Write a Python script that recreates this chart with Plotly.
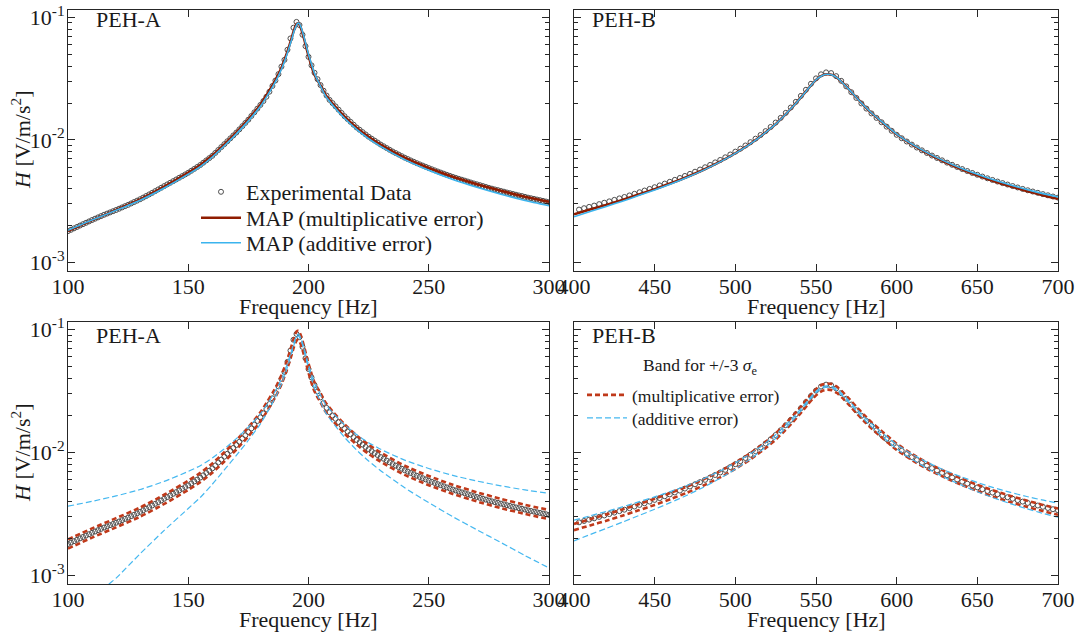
import plotly.graph_objects as go

# ---------------- data ----------------
# PEH-A experimental data, sampled every 1.25 Hz from 100 to 300 Hz
FREQ_A = [100 + 1.25 * k for k in range(161)]
H_EXP_A = [
    1.800e-3, 1.847e-3, 1.897e-3, 1.948e-3, 2.000e-3, 2.052e-3, 2.106e-3, 2.161e-3, 2.218e-3, 2.274e-3,
    2.331e-3, 2.389e-3, 2.449e-3, 2.504e-3, 2.561e-3, 2.619e-3, 2.679e-3, 2.744e-3, 2.812e-3, 2.881e-3,
    2.951e-3, 3.030e-3, 3.112e-3, 3.195e-3, 3.281e-3, 3.381e-3, 3.483e-3, 3.589e-3, 3.698e-3, 3.817e-3,
    3.940e-3, 4.066e-3, 4.198e-3, 4.330e-3, 4.467e-3, 4.608e-3, 4.753e-3, 4.906e-3, 5.063e-3, 5.225e-3,
    5.395e-3, 5.594e-3, 5.800e-3, 6.013e-3, 6.237e-3, 6.512e-3, 6.799e-3, 7.098e-3, 7.413e-3, 7.830e-3,
    8.270e-3, 8.736e-3, 9.226e-3, 9.743e-3, 1.029e-2, 1.087e-2, 1.148e-2, 1.219e-2, 1.295e-2, 1.376e-2,
    1.462e-2, 1.567e-2, 1.679e-2, 1.799e-2, 1.928e-2, 2.075e-2, 2.249e-2, 2.472e-2, 2.754e-2, 3.050e-2,
    3.440e-2, 3.960e-2, 4.500e-2, 5.440e-2, 6.730e-2, 8.230e-2, 9.180e-2, 8.650e-2, 7.210e-2, 5.820e-2,
    4.760e-2, 4.060e-2, 3.530e-2, 3.130e-2, 2.800e-2, 2.520e-2, 2.300e-2, 2.120e-2, 1.995e-2, 1.876e-2,
    1.764e-2, 1.659e-2, 1.560e-2, 1.479e-2, 1.403e-2, 1.330e-2, 1.262e-2, 1.209e-2, 1.157e-2, 1.108e-2,
    1.062e-2, 1.023e-2, 9.86e-3, 9.51e-3, 9.16e-3, 8.87e-3, 8.58e-3, 8.30e-3, 8.04e-3, 7.81e-3,
    7.59e-3, 7.37e-3, 7.16e-3, 6.98e-3, 6.80e-3, 6.63e-3, 6.46e-3, 6.31e-3, 6.17e-3, 6.03e-3,
    5.89e-3, 5.76e-3, 5.64e-3, 5.52e-3, 5.41e-3, 5.30e-3, 5.19e-3, 5.09e-3, 4.99e-3, 4.90e-3,
    4.81e-3, 4.73e-3, 4.65e-3, 4.57e-3, 4.49e-3, 4.41e-3, 4.34e-3, 4.27e-3, 4.20e-3, 4.13e-3,
    4.06e-3, 4.00e-3, 3.94e-3, 3.89e-3, 3.83e-3, 3.78e-3, 3.72e-3, 3.67e-3, 3.62e-3, 3.57e-3,
    3.52e-3, 3.48e-3, 3.43e-3, 3.38e-3, 3.34e-3, 3.30e-3, 3.26e-3, 3.22e-3, 3.18e-3, 3.14e-3,
    3.10e-3,
]

# PEH-A model curves (MAP) and +/-3 sigma bands
F_MAP_A = [100, 110, 120, 130, 140, 150, 155, 160, 165, 170, 175, 180, 183, 185, 187, 189, 190, 191,
           192, 193, 194, 195, 195.5, 196, 197, 198, 199, 200, 201, 202, 203, 205, 207, 210, 215, 220,
           225, 230, 240, 250, 260, 270, 280, 290, 300]
MAP_MULT_A = [1.80e-3, 2.21e-3, 2.68e-3, 3.27e-3, 4.15e-3, 5.40e-3, 6.25e-3, 7.45e-3, 9.20e-3, 1.15e-2,
              1.47e-2, 1.94e-2, 2.40e-2, 2.78e-2, 3.28e-2, 4.00e-2, 4.50e-2, 5.10e-2, 5.85e-2, 6.80e-2,
              7.90e-2, 8.80e-2, 8.95e-2, 8.90e-2, 8.00e-2, 6.85e-2, 5.75e-2, 4.85e-2, 4.15e-2, 3.60e-2,
              3.25e-2, 2.78e-2, 2.35e-2, 1.98e-2, 1.55e-2, 1.26e-2, 1.06e-2, 9.15e-3, 7.15e-3, 5.90e-3,
              5.00e-3, 4.35e-3, 3.84e-3, 3.44e-3, 3.12e-3]
MAP_ADD_A = [1.83e-3, 2.22e-3, 2.66e-3, 3.22e-3, 4.05e-3, 5.25e-3, 6.05e-3, 7.25e-3, 8.95e-3, 1.12e-2,
             1.43e-2, 1.88e-2, 2.32e-2, 2.70e-2, 3.18e-2, 3.88e-2, 4.35e-2, 4.95e-2, 5.70e-2, 6.60e-2,
             7.70e-2, 8.65e-2, 8.95e-2, 8.95e-2, 8.20e-2, 7.05e-2, 5.95e-2, 5.00e-2, 4.30e-2, 3.72e-2,
             3.30e-2, 2.75e-2, 2.30e-2, 1.93e-2, 1.50e-2, 1.22e-2, 1.025e-2, 8.85e-3, 6.90e-3, 5.65e-3,
             4.75e-3, 4.10e-3, 3.60e-3, 3.20e-3, 2.90e-3]
MULT_UP_A = [1.962e-3, 2.409e-3, 2.921e-3, 3.564e-3, 4.524e-3, 5.886e-3, 6.813e-3, 8.121e-3, 1.003e-2,
             1.254e-2, 1.602e-2, 2.115e-2, 2.616e-2, 3.030e-2, 3.575e-2, 4.360e-2, 4.905e-2, 5.559e-2,
             6.377e-2, 7.412e-2, 8.611e-2, 9.592e-2, 9.756e-2, 9.701e-2, 8.720e-2, 7.467e-2, 6.268e-2,
             5.287e-2, 4.524e-2, 3.924e-2, 3.543e-2, 3.030e-2, 2.562e-2, 2.158e-2, 1.690e-2, 1.373e-2,
             1.155e-2, 9.97e-3, 7.79e-3, 6.43e-3, 5.45e-3, 4.74e-3, 4.19e-3, 3.75e-3, 3.40e-3]
MULT_LO_A = [1.651e-3, 2.028e-3, 2.459e-3, 3.000e-3, 3.807e-3, 4.954e-3, 5.734e-3, 6.835e-3, 8.44e-3,
             1.055e-2, 1.349e-2, 1.780e-2, 2.202e-2, 2.550e-2, 3.009e-2, 3.670e-2, 4.128e-2, 4.679e-2,
             5.367e-2, 6.239e-2, 7.248e-2, 8.073e-2, 8.211e-2, 8.165e-2, 7.339e-2, 6.284e-2, 5.275e-2,
             4.450e-2, 3.807e-2, 3.303e-2, 2.982e-2, 2.550e-2, 2.156e-2, 1.817e-2, 1.422e-2, 1.156e-2,
             9.72e-3, 8.39e-3, 6.56e-3, 5.41e-3, 4.59e-3, 3.99e-3, 3.52e-3, 3.16e-3, 2.86e-3]
ADD_UP_A = [3.65e-3, 4.00e-3, 4.43e-3, 4.99e-3, 5.81e-3, 7.00e-3, 7.80e-3, 9.00e-3, 1.07e-2, 1.295e-2,
            1.605e-2, 2.055e-2, 2.495e-2, 2.875e-2, 3.355e-2, 4.055e-2, 4.525e-2, 5.125e-2, 5.875e-2,
            6.775e-2, 7.875e-2, 8.825e-2, 9.125e-2, 9.125e-2, 8.375e-2, 7.225e-2, 6.125e-2, 5.175e-2,
            4.475e-2, 3.895e-2, 3.475e-2, 2.925e-2, 2.475e-2, 2.105e-2, 1.675e-2, 1.395e-2, 1.200e-2,
            1.060e-2, 8.65e-3, 7.40e-3, 6.50e-3, 5.85e-3, 5.35e-3, 4.95e-3, 4.65e-3]
F_ADD_LO_A = [105, 110, 115, 120, 130, 140, 150, 155, 160, 165, 170, 175, 180, 183, 185, 187, 189, 190,
              191, 192, 193, 194, 195, 195.5, 196, 197, 198, 199, 200, 201, 202, 203, 205, 207, 210,
              215, 220, 225, 230, 240, 250, 260, 270, 280, 290, 300]
ADD_LO_A = [0.30e-3, 0.50e-3, 0.78e-3, 0.95e-3, 1.50e-3, 2.32e-3, 3.50e-3, 4.30e-3, 5.50e-3, 7.20e-3,
            9.45e-3, 1.255e-2, 1.705e-2, 2.145e-2, 2.525e-2, 3.005e-2, 3.705e-2, 4.175e-2, 4.775e-2,
            5.525e-2, 6.425e-2, 7.525e-2, 8.475e-2, 8.775e-2, 8.775e-2, 8.025e-2, 6.875e-2, 5.775e-2,
            4.825e-2, 4.125e-2, 3.545e-2, 3.125e-2, 2.575e-2, 2.125e-2, 1.755e-2, 1.325e-2, 1.045e-2,
            8.50e-3, 7.10e-3, 5.15e-3, 3.90e-3, 3.00e-3, 2.35e-3, 1.85e-3, 1.45e-3, 1.15e-3]

# PEH-B experimental data, sampled every 3.125 Hz from 403.125 to 700 Hz
FREQ_B = [403.125 + 3.125 * k for k in range(96)]
H_EXP_B = [
    2.70e-3, 2.77e-3, 2.84e-3, 2.91e-3, 2.99e-3, 3.07e-3, 3.15e-3, 3.24e-3, 3.33e-3, 3.42e-3,
    3.52e-3, 3.63e-3, 3.74e-3, 3.86e-3, 3.98e-3, 4.11e-3, 4.25e-3, 4.40e-3, 4.55e-3, 4.72e-3,
    4.89e-3, 5.08e-3, 5.28e-3, 5.50e-3, 5.73e-3, 5.98e-3, 6.25e-3, 6.55e-3, 6.86e-3, 7.21e-3,
    7.60e-3, 8.02e-3, 8.48e-3, 9.00e-3, 9.58e-3, 1.023e-2, 1.096e-2, 1.179e-2, 1.275e-2, 1.385e-2,
    1.513e-2, 1.662e-2, 1.838e-2, 2.044e-2, 2.286e-2, 2.564e-2, 2.870e-2, 3.177e-2, 3.429e-2, 3.555e-2,
    3.510e-2, 3.313e-2, 3.033e-2, 2.732e-2, 2.450e-2, 2.200e-2, 1.984e-2, 1.801e-2, 1.644e-2, 1.511e-2,
    1.393e-2, 1.283e-2, 1.186e-2, 1.100e-2, 1.031e-2, 9.70e-3, 9.15e-3, 8.66e-3, 8.22e-3, 7.82e-3,
    7.45e-3, 7.12e-3, 6.81e-3, 6.52e-3, 6.26e-3, 6.01e-3, 5.78e-3, 5.57e-3, 5.37e-3, 5.19e-3,
    5.02e-3, 4.86e-3, 4.71e-3, 4.57e-3, 4.44e-3, 4.32e-3, 4.20e-3, 4.09e-3, 3.98e-3, 3.88e-3,
    3.79e-3, 3.70e-3, 3.61e-3, 3.53e-3, 3.45e-3, 3.38e-3,
]

F_MAP_B = [400, 410, 420, 430, 440, 450, 460, 470, 480, 490, 500, 510, 520, 525, 530, 535, 540, 545,
           548, 551, 554, 557, 560, 563, 566, 570, 575, 580, 585, 590, 600, 610, 620, 630, 640, 650,
           660, 670, 680, 690, 700]
MAP_MULT_B = [2.47e-3, 2.70e-3, 2.95e-3, 3.24e-3, 3.58e-3, 3.96e-3, 4.43e-3, 4.98e-3, 5.68e-3, 6.58e-3,
              7.78e-3, 9.42e-3, 1.185e-2, 1.345e-2, 1.56e-2, 1.83e-2, 2.17e-2, 2.60e-2, 2.90e-2, 3.17e-2,
              3.36e-2, 3.43e-2, 3.39e-2, 3.22e-2, 2.97e-2, 2.62e-2, 2.22e-2, 1.89e-2, 1.63e-2, 1.43e-2,
              1.11e-2, 9.08e-3, 7.65e-3, 6.60e-3, 5.79e-3, 5.14e-3, 4.62e-3, 4.20e-3, 3.85e-3, 3.55e-3,
              3.30e-3]
MAP_ADD_B = [2.36e-3, 2.60e-3, 2.86e-3, 3.16e-3, 3.51e-3, 3.90e-3, 4.37e-3, 4.93e-3, 5.64e-3, 6.55e-3,
             7.76e-3, 9.41e-3, 1.185e-2, 1.346e-2, 1.56e-2, 1.83e-2, 2.17e-2, 2.60e-2, 2.90e-2, 3.17e-2,
             3.36e-2, 3.43e-2, 3.39e-2, 3.22e-2, 2.97e-2, 2.62e-2, 2.22e-2, 1.89e-2, 1.635e-2, 1.435e-2,
             1.115e-2, 9.15e-3, 7.73e-3, 6.68e-3, 5.88e-3, 5.24e-3, 4.72e-3, 4.30e-3, 3.95e-3, 3.66e-3,
             3.42e-3]
MULT_UP_B = [2.62e-3, 2.86e-3, 3.13e-3, 3.43e-3, 3.79e-3, 4.20e-3, 4.70e-3, 5.28e-3, 6.02e-3, 6.97e-3,
             8.25e-3, 9.99e-3, 1.256e-2, 1.426e-2, 1.654e-2, 1.940e-2, 2.300e-2, 2.756e-2, 3.074e-2,
             3.360e-2, 3.562e-2, 3.636e-2, 3.593e-2, 3.413e-2, 3.148e-2, 2.777e-2, 2.353e-2, 2.003e-2,
             1.728e-2, 1.516e-2, 1.177e-2, 9.62e-3, 8.11e-3, 7.00e-3, 6.14e-3, 5.45e-3, 4.90e-3, 4.45e-3,
             4.08e-3, 3.76e-3, 3.50e-3]
MULT_LO_B = [2.33e-3, 2.55e-3, 2.78e-3, 3.06e-3, 3.38e-3, 3.74e-3, 4.18e-3, 4.70e-3, 5.36e-3, 6.21e-3,
             7.34e-3, 8.89e-3, 1.118e-2, 1.269e-2, 1.472e-2, 1.726e-2, 2.047e-2, 2.453e-2, 2.736e-2,
             2.991e-2, 3.170e-2, 3.236e-2, 3.198e-2, 3.038e-2, 2.802e-2, 2.472e-2, 2.094e-2, 1.783e-2,
             1.538e-2, 1.349e-2, 1.047e-2, 8.57e-3, 7.22e-3, 6.23e-3, 5.46e-3, 4.85e-3, 4.36e-3, 3.96e-3,
             3.63e-3, 3.35e-3, 3.11e-3]
ADD_UP_B = [2.81e-3, 3.05e-3, 3.31e-3, 3.61e-3, 3.96e-3, 4.35e-3, 4.82e-3, 5.38e-3, 6.09e-3, 7.00e-3,
            8.21e-3, 9.86e-3, 1.230e-2, 1.391e-2, 1.605e-2, 1.875e-2, 2.215e-2, 2.645e-2, 2.945e-2,
            3.215e-2, 3.405e-2, 3.475e-2, 3.435e-2, 3.265e-2, 3.015e-2, 2.665e-2, 2.265e-2, 1.935e-2,
            1.680e-2, 1.480e-2, 1.160e-2, 9.60e-3, 8.18e-3, 7.13e-3, 6.33e-3, 5.69e-3, 5.17e-3, 4.75e-3,
            4.40e-3, 4.11e-3, 3.87e-3]
ADD_LO_B = [1.91e-3, 2.15e-3, 2.41e-3, 2.71e-3, 3.06e-3, 3.45e-3, 3.92e-3, 4.48e-3, 5.19e-3, 6.10e-3,
            7.31e-3, 8.96e-3, 1.140e-2, 1.301e-2, 1.515e-2, 1.785e-2, 2.125e-2, 2.555e-2, 2.855e-2,
            3.125e-2, 3.315e-2, 3.385e-2, 3.345e-2, 3.175e-2, 2.925e-2, 2.575e-2, 2.175e-2, 1.845e-2,
            1.590e-2, 1.390e-2, 1.070e-2, 8.70e-3, 7.28e-3, 6.23e-3, 5.43e-3, 4.79e-3, 4.27e-3, 3.85e-3,
            3.50e-3, 3.21e-3, 2.97e-3]

Y_TICKS = [1e-3, 1e-2, 1e-1]
Y_TICKTEXT = ["10<sup>-3</sup>", "10<sup>-2</sup>", "10<sup>-1</sup>"]
Y_MINOR = [2e-3, 3e-3, 4e-3, 5e-3, 6e-3, 7e-3, 8e-3, 9e-3, 2e-2, 3e-2, 4e-2, 5e-2, 6e-2, 7e-2, 8e-2, 9e-2]
X_TICKS_A = [100, 150, 200, 250, 300]
X_TICKS_B = [400, 450, 500, 550, 600, 650, 700]

# ---------------- style ----------------
FONT = "Liberation Serif"
TXT = "#1a1a1a"
AX = "#262626"
C_DATA = "#4d4d4d"
C_MULT = "#8f1c00"
C_ADD = "#3bb4ee"
C_BAND_MULT = "#c0391a"
C_BAND_ADD = "#45b8f0"

W, H = 1077, 633
def px_x(p):
    return p / W
def px_y(p):
    return 1 - p / H

fig = go.Figure()

def data_trace(x, y, xa, ya, show=False):
    return go.Scatter(x=x, y=y, xaxis=xa, yaxis=ya, mode="markers", name="Experimental Data",
                      marker=dict(symbol="circle-open", size=5, color=C_DATA, line=dict(width=1)),
                      showlegend=show, legend="legend")

# Panel 1: PEH-A, MAP fits
fig.add_trace(data_trace(FREQ_A, H_EXP_A, "x", "y", True))
fig.add_trace(go.Scatter(x=F_MAP_A, y=MAP_MULT_A, xaxis="x", yaxis="y", mode="lines",
                         line=dict(color=C_MULT, width=2.5, shape="spline", smoothing=0.6),
                         name="MAP (multiplicative error)", legend="legend3"))
fig.add_trace(go.Scatter(x=F_MAP_A, y=MAP_ADD_A, xaxis="x", yaxis="y", mode="lines",
                         line=dict(color=C_ADD, width=1.6, shape="spline", smoothing=0.6),
                         name="MAP (additive error)", legend="legend4"))
# Panel 2: PEH-B, MAP fits
fig.add_trace(data_trace(FREQ_B, H_EXP_B, "x2", "y2"))
fig.add_trace(go.Scatter(x=F_MAP_B, y=MAP_MULT_B, xaxis="x2", yaxis="y2", mode="lines",
                         line=dict(color=C_MULT, width=2.5, shape="spline", smoothing=0.6), showlegend=False))
fig.add_trace(go.Scatter(x=F_MAP_B, y=MAP_ADD_B, xaxis="x2", yaxis="y2", mode="lines",
                         line=dict(color=C_ADD, width=1.6, shape="spline", smoothing=0.6), showlegend=False))

# Panel 3: PEH-A bands
fig.add_trace(data_trace(FREQ_A, H_EXP_A, "x3", "y3"))
band_mult = dict(color=C_BAND_MULT, width=2.6, dash="5px,3px", shape="spline", smoothing=0.6)
band_add = dict(color=C_BAND_ADD, width=1.2, dash="6px,3px", shape="spline", smoothing=0.6)
fig.add_trace(go.Scatter(x=F_MAP_A, y=MULT_UP_A, xaxis="x3", yaxis="y3", mode="lines", line=band_mult,
                         name="(multiplicative error)", legend="legend2"))
fig.add_trace(go.Scatter(x=F_MAP_A, y=MULT_LO_A, xaxis="x3", yaxis="y3", mode="lines", line=band_mult,
                         showlegend=False))
fig.add_trace(go.Scatter(x=F_MAP_A, y=ADD_UP_A, xaxis="x3", yaxis="y3", mode="lines", line=band_add,
                         name="(additive error)", legend="legend5"))
fig.add_trace(go.Scatter(x=F_ADD_LO_A, y=ADD_LO_A, xaxis="x3", yaxis="y3", mode="lines", line=band_add,
                         showlegend=False))
# Panel 4: PEH-B bands
fig.add_trace(data_trace(FREQ_B, H_EXP_B, "x4", "y4"))
for yy, ln in [(MULT_UP_B, band_mult), (MULT_LO_B, band_mult), (ADD_UP_B, band_add), (ADD_LO_B, band_add)]:
    fig.add_trace(go.Scatter(x=F_MAP_B, y=yy, xaxis="x4", yaxis="y4", mode="lines", line=ln,
                             showlegend=False))

# ---------------- axes ----------------
X_DOM_L = [px_x(68), px_x(549)]
X_DOM_R = [px_x(574), px_x(1058)]
Y_DOM_T = [px_y(271), px_y(10)]
Y_DOM_B = [px_y(584), px_y(322)]
Y_RANGE = [-3.07, -0.94]

def xaxis(dom, anchor, rng, ticks):
    return dict(domain=dom, anchor=anchor, range=rng, tickvals=ticks, ticks="inside", ticklen=7,
                tickwidth=1, tickcolor=AX, showline=True, linecolor=AX, linewidth=1, mirror="allticks",
                showgrid=False, zeroline=False, automargin=False,
                tickfont=dict(family=FONT, size=22, color=TXT), ticklabelstandoff=-4)

def yaxis(dom, anchor, labels):
    return dict(domain=dom, anchor=anchor, type="log", range=Y_RANGE, tickvals=Y_TICKS,
                ticktext=Y_TICKTEXT, showticklabels=labels, ticks="inside", ticklen=7, tickwidth=1,
                tickcolor=AX, showline=True, linecolor=AX, linewidth=1, mirror="allticks",
                showgrid=False, zeroline=False, automargin=False,
                tickfont=dict(family=FONT, size=22, color=TXT),
                minor=dict(tickvals=Y_MINOR, ticks="inside", ticklen=4, tickwidth=1, tickcolor=AX,
                           showgrid=False),
                ticklabelstandoff=-2)

def one_legend(xl, yc, size):
    return dict(x=px_x(xl), y=px_y(yc), xanchor="left", yanchor="middle", bgcolor="rgba(0,0,0,0)",
                borderwidth=0, font=dict(family=FONT, size=size, color=TXT), itemwidth=40)

fig.update_layout(
    template="none",
    width=W, height=H, margin=dict(l=0, r=0, t=0, b=0, autoexpand=False),
    paper_bgcolor="white", plot_bgcolor="white",
    font=dict(family=FONT, size=22, color=TXT),
    xaxis=xaxis(X_DOM_L, "y", [100, 300], X_TICKS_A),
    yaxis=yaxis(Y_DOM_T, "x", True),
    xaxis2=xaxis(X_DOM_R, "y2", [400, 700], X_TICKS_B),
    yaxis2=yaxis(Y_DOM_T, "x2", False),
    xaxis3=xaxis(X_DOM_L, "y3", [100, 300], X_TICKS_A),
    yaxis3=yaxis(Y_DOM_B, "x3", True),
    xaxis4=xaxis(X_DOM_R, "y4", [400, 700], X_TICKS_B),
    yaxis4=yaxis(Y_DOM_B, "x4", False),
    legend=one_legend(196, 192, 22),
    legend3=one_legend(196, 218, 22),
    legend4=one_legend(196, 243, 22),
    legend2=one_legend(582, 395, 17.5),
    legend5=one_legend(582, 418, 17.5),
    showlegend=True,
)

annos = []
for xc, yc in [(308, 306), (816, 306), (308, 619), (816, 619)]:
    annos.append(dict(text="Frequency [Hz]", x=px_x(xc), y=px_y(yc), xref="paper", yref="paper",
                      showarrow=False, xanchor="center", yanchor="middle",
                      font=dict(family=FONT, size=22, color=TXT)))
for yc in [140, 453]:
    annos.append(dict(text="<i>H</i> [V/m/s<sup>2</sup>]", x=px_x(21), y=px_y(yc), xref="paper",
                      yref="paper", showarrow=False, textangle=-90, xanchor="center", yanchor="middle",
                      font=dict(family=FONT, size=22, color=TXT)))
for txt, xl, yc in [("PEH-A", 94, 20), ("PEH-B", 590, 20), ("PEH-A", 94, 335), ("PEH-B", 590, 335)]:
    annos.append(dict(text=txt, x=px_x(xl), y=px_y(yc), xref="paper", yref="paper", showarrow=False,
                      xanchor="left", yanchor="middle", font=dict(family=FONT, size=22, color=TXT)))
annos.append(dict(text="Band for +/-3 <i>σ</i><sub>e</sub>", x=px_x(700), y=px_y(366), xref="paper",
                  yref="paper", showarrow=False, xanchor="center", yanchor="middle",
                  font=dict(family=FONT, size=17.5, color=TXT)))
fig.update_layout(annotations=annos)

fig.write_html("out.html", config={"displayModeBar": False},
               post_script="document.body.style.margin='0px';")
